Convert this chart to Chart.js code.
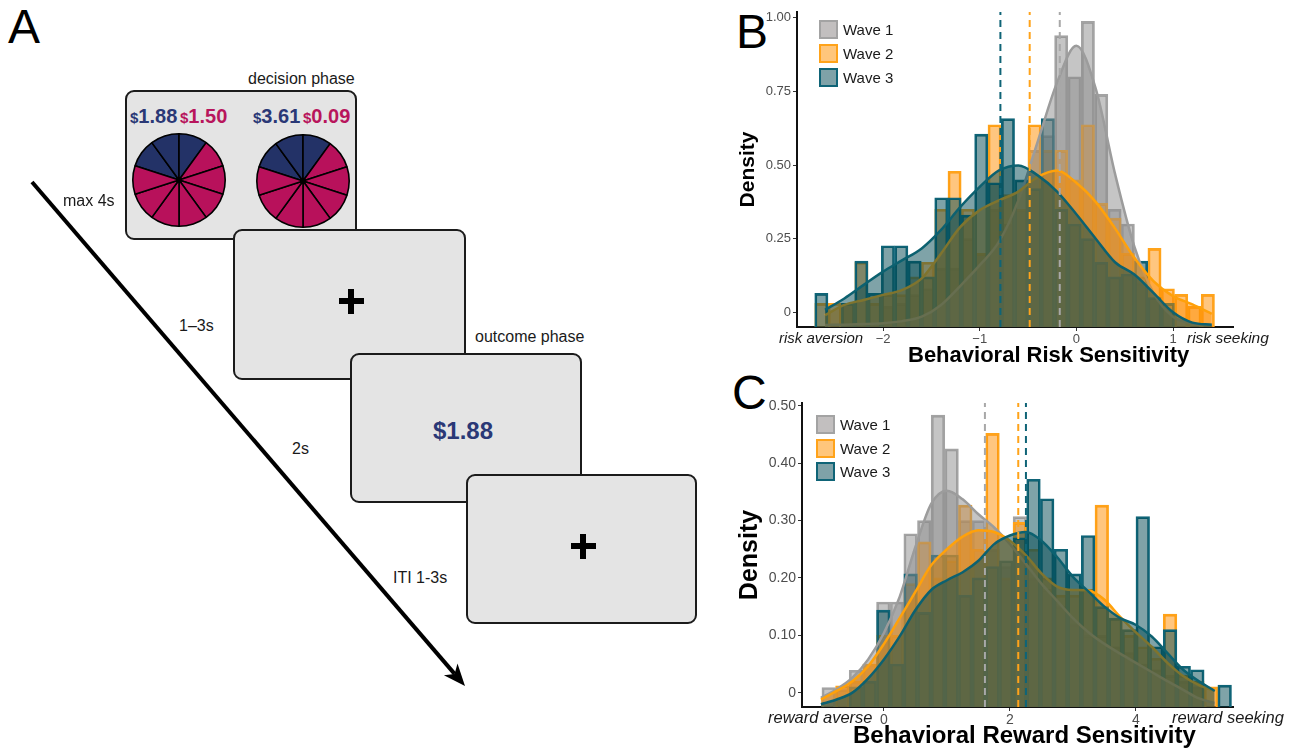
<!DOCTYPE html>
<html>
<head>
<meta charset="utf-8">
<script src="https://cdn.jsdelivr.net/npm/chart.js@4.4.0/dist/chart.umd.min.js"></script>
<style>
  html, body { margin: 0; padding: 0; background: #fff; }
  body {
    width: 1293px; height: 751px; position: relative; overflow: hidden;
    font-family: "Liberation Sans", Arial, sans-serif; color: #1a1a1a;
  }
  .abs { position: absolute; white-space: nowrap; line-height: 1; }
  .letter { font-size: 48px; color: #000; }
  .screen {
    position: absolute; box-sizing: border-box; border: 2px solid #1b1b1b;
    border-radius: 9px; background: #e4e4e4;
  }
  .note { font-size: 16px; color: #1a1a1a; }
  .money { font-size: 20px; font-weight: 700; }
  .money small { font-size: 15px; }
  .blue { color: #2a3876; }
  .pink { color: #b8155c; }
  .bar { position: absolute; background: #000; }
  .xtitle { font-weight: 700; color: #000; }
  .side { font-style: italic; color: #1a1a1a; }
  .legend-item { position: absolute; height: 19px; }
  .legend-key { position: absolute; left: 0; top: 0; width: 19px; height: 19px; box-sizing: border-box; border: 2px solid; }
  .legend-text { position: absolute; left: 24px; top: 2px; font-size: 15px; line-height: 1; color: #1a1a1a; white-space: nowrap; }
  canvas { position: absolute; }
</style>
</head>
<body>

<!-- ── Panel A: task timeline ─────────────────────────────── -->
<div class="abs letter" style="left:8px; top:3px;">A</div>

<svg width="1293" height="751" style="position:absolute; left:0; top:0;">
  <line x1="32" y1="182" x2="454.6" y2="673.9" stroke="#000" stroke-width="4"/>
  <polygon points="465,686 443.9,675.2 454.6,673.9 457.5,663.4" fill="#000"/>
</svg>

<div class="screen" style="left:125px; top:90px; width:232px; height:150px;"></div>
<div class="abs note" style="left:248px; top:71px;">decision phase</div>
<div class="abs money blue" style="left:130px; top:106px;"><small>$</small>1.88</div>
<div class="abs money pink" style="left:180px; top:106px;"><small>$</small>1.50</div>
<div class="abs money blue" style="left:253px; top:106px;"><small>$</small>3.61</div>
<div class="abs money pink" style="left:303px; top:106px;"><small>$</small>0.09</div>
<canvas id="pie1" width="94" height="94" style="left:132px; top:133px;"></canvas>
<canvas id="pie2" width="94" height="94" style="left:256px; top:134px;"></canvas>
<div class="abs" style="left:176px; top:177px; width:6px; height:6px; border-radius:3px; background:#000;"></div>
<div class="abs" style="left:300px; top:178px; width:6px; height:6px; border-radius:3px; background:#000;"></div>

<div class="screen" style="left:233px; top:229px; width:233px; height:151px;"></div>
<div class="bar" style="left:339px; top:298px; width:25px; height:6px;"></div>
<div class="bar" style="left:348px; top:289px; width:6px; height:25px;"></div>

<div class="abs note" style="left:475px; top:329px;">outcome phase</div>
<div class="screen" style="left:350px; top:353px; width:232px; height:150px;"></div>
<div class="abs blue" style="left:433px; top:419px; font-size:24px; font-weight:700;">$1.88</div>

<div class="screen" style="left:466px; top:474px; width:231px; height:150px;"></div>
<div class="bar" style="left:571px; top:543px; width:25px; height:6px;"></div>
<div class="bar" style="left:580px; top:534px; width:6px; height:25px;"></div>

<div class="abs note" style="left:63px; top:193px;">max 4s</div>
<div class="abs note" style="left:179px; top:318px;">1–3s</div>
<div class="abs note" style="left:292px; top:441px;">2s</div>
<div class="abs note" style="left:393px; top:570px;">ITI 1-3s</div>

<!-- ── Panel B / C: histograms ────────────────────────────── -->
<div class="abs letter" style="left:736px; top:8px;">B</div>
<div class="abs letter" style="left:732px; top:369px;">C</div>

<canvas id="riskChart" width="515" height="372" style="left:730px; top:0px;"></canvas>
<canvas id="rewardChart" width="515" height="379" style="left:730px; top:372px;"></canvas>

<div class="abs xtitle" style="left:908px; top:344px; font-size:22px;">Behavioral Risk Sensitivity</div>
<div class="abs side" style="left:779px; top:330px; font-size:15px;">risk aversion</div>
<div class="abs side" style="left:1187px; top:330px; font-size:15.5px;">risk seeking</div>

<div class="abs xtitle" style="left:853px; top:723px; font-size:24px;">Behavioral Reward Sensitivity</div>
<div class="abs side" style="left:768px; top:709px; font-size:16.5px;">reward averse</div>
<div class="abs side" style="left:1172px; top:709px; font-size:16.5px;">reward seeking</div>

<div id="riskLegend"></div>
<div id="rewardLegend"></div>

<script>
// ── Data ────────────────────────────────────────────────────

const WAVE_LABELS = ['Wave 1', 'Wave 2', 'Wave 3'];

// decision-phase wheels: 10 equal wedges each, 3 blue (win) / 7 pink
const PIE_LEFT_WEDGES = [1, 1, 1, 1, 1, 1, 1, 1, 1, 1];
const PIE_RIGHT_WEDGES = [1, 1, 1, 1, 1, 1, 1, 1, 1, 1];
const PIE_BLUE_COUNT = 3;

// Panel B – behavioral risk sensitivity (30 shared bins)
const RISK_BIN_CENTERS = [-2.638, -2.500, -2.362, -2.224, -2.087, -1.949, -1.811, -1.673, -1.535, -1.397,
  -1.260, -1.122, -0.984, -0.846, -0.708, -0.570, -0.432, -0.295, -0.157, -0.019,
  0.119, 0.257, 0.395, 0.532, 0.670, 0.808, 0.946, 1.084, 1.222, 1.360];
const RISK_HIST_WAVE1 = [null, null, 0.03, null, null, 0.02, 0.03, 0.06, 0.08, 0.15,
  0.15, 0.25, 0.20, 0.35, 0.30, 0.35, 0.55, 0.60, 0.94, 0.80,
  0.988, 0.74, 0.35, 0.30, 0.10, 0.05, null, null, null, null];
const RISK_HIST_WAVE2 = [0.03, 0.03, 0.03, 0.17, 0.03, 0.06, 0.06, 0.12, 0.17, 0.35,
  0.479, 0.35, 0.20, 0.637, 0.40, 0.35, 0.637, 0.55, 0.55, 0.45,
  0.637, 0.37, 0.32, 0.20, 0.12, 0.217, 0.08, 0.061, 0.02, 0.061];
const RISK_HIST_WAVE3 = [0.064, null, 0.03, 0.174, 0.064, 0.226, 0.226, 0.174, 0.12, 0.389,
  0.389, 0.33, 0.605, 0.44, 0.658, 0.45, 0.42, 0.658, 0.35, 0.30,
  0.25, 0.17, 0.12, 0.13, 0.174, 0.05, 0.03, null, null, null];
const RISK_CURVE_X = [-2.6, -2.4, -2.2, -2.0, -1.8, -1.6, -1.4, -1.2, -1.0, -0.8, -0.6,
  -0.4, -0.2, 0.0, 0.2, 0.4, 0.6, 0.8, 1.0, 1.2, 1.4];
const RISK_DENS_WAVE1 = [-0.043, -0.042, -0.040, -0.037, -0.030, -0.015, 0.025, 0.090, 0.160, 0.240, 0.380,
  0.580, 0.780, 0.905, 0.760, 0.470, 0.223, 0.064, -0.015, -0.037, -0.043];
const RISK_DENS_WAVE2 = [-0.010, 0.025, 0.042, 0.059, 0.076, 0.115, 0.200, 0.290, 0.347, 0.380, 0.410,
  0.460, 0.482, 0.440, 0.375, 0.285, 0.185, 0.105, 0.055, 0.027, -0.005];
const RISK_DENS_WAVE3 = [0.008, 0.047, 0.093, 0.138, 0.177, 0.217, 0.280, 0.358, 0.426, 0.482, 0.499,
  0.465, 0.410, 0.333, 0.250, 0.170, 0.128, 0.065, 0.000, -0.035, -0.042];
const RISK_MEANS = [-0.172, -0.483, -0.786];
const RISK_X_TICKS = [-2, -1, 0, 1];
const RISK_Y_TICKS = [0, 0.25, 0.5, 0.75, 1];

// Panel C – behavioral reward sensitivity (30 shared bins)
const REWARD_BIN_CENTERS = [-0.876, -0.659, -0.443, -0.226, -0.009, 0.208, 0.424, 0.641, 0.858, 1.074,
  1.291, 1.508, 1.724, 1.941, 2.158, 2.374, 2.591, 2.808, 3.024, 3.241,
  3.458, 3.674, 3.891, 4.108, 4.324, 4.541, 4.758, 4.974, 5.191, 5.408];
const REWARD_HIST_WAVE1 = [0.009, 0.005, 0.039, 0.05, 0.158, 0.158, 0.277, 0.30, 0.484, 0.425,
  0.30, 0.30, 0.25, 0.22, 0.307, 0.20, 0.18, 0.15, 0.12, 0.10,
  0.10, 0.08, 0.07, 0.05, 0.04, 0.03, 0.02, 0.01, null, null];
const REWARD_HIST_WAVE2 = [null, 0.012, 0.02, 0.05, 0.10, 0.10, 0.19, 0.263, 0.20, 0.23,
  0.327, 0.25, 0.452, 0.20, 0.297, 0.25, 0.20, 0.17, 0.17, 0.18,
  0.327, 0.13, 0.10, 0.08, 0.06, 0.137, 0.03, 0.02, 0.01, null];
const REWARD_HIST_WAVE3 = [null, null, 0.01, 0.02, 0.144, 0.05, 0.207, 0.14, 0.24, 0.24,
  0.17, 0.20, 0.22, 0.23, 0.27, 0.372, 0.338, 0.25, 0.207, 0.274,
  0.15, 0.13, 0.11, 0.307, 0.08, 0.11, 0.046, 0.04, null, 0.013];
const REWARD_CURVE_X = [-1.0, -0.75, -0.5, -0.25, 0.0, 0.25, 0.5, 0.75, 1.0, 1.25, 1.5, 1.75, 2.0,
  2.25, 2.5, 2.75, 3.0, 3.25, 3.5, 3.75, 4.0, 4.25, 4.5, 4.75, 5.0, 5.25];
const REWARD_DENS_WAVE1 = [-0.009, 0.006, 0.026, 0.058, 0.104, 0.167, 0.254, 0.329, 0.352, 0.337, 0.311, 0.288, 0.259,
  0.225, 0.190, 0.160, 0.130, 0.105, 0.085, 0.068, 0.052, 0.036, 0.020, 0.005, -0.010, -0.018];
const REWARD_DENS_WAVE2 = [-0.012, 0.003, 0.020, 0.046, 0.085, 0.130, 0.176, 0.222, 0.250, 0.272, 0.283, 0.280, 0.265,
  0.240, 0.208, 0.185, 0.179, 0.178, 0.162, 0.132, 0.105, 0.080, 0.052, 0.029, 0.013, 0.003];
const REWARD_DENS_WAVE3 = [-0.020, -0.012, 0.000, 0.025, 0.058, 0.098, 0.144, 0.179, 0.196, 0.210, 0.230, 0.259, 0.274,
  0.280, 0.265, 0.236, 0.202, 0.176, 0.150, 0.130, 0.118, 0.098, 0.069, 0.040, 0.020, 0.003];
const REWARD_MEANS = [1.603, 2.132, 2.254];
const REWARD_X_TICKS = [0, 2, 4];
const REWARD_Y_TICKS = [0, 0.1, 0.2, 0.3, 0.4, 0.5];

// ── Styles ──────────────────────────────────────────────────

const FONT = '"Liberation Sans", Arial, sans-serif';

const WAVE_STYLES = [
  { fill: 'rgba(140,140,140,0.5)', line: '#a3a3a3', curve: '#9c9c9c', mean: '#a8a8a8', key: '#c2bfbf' },
  { fill: 'rgba(255,142,0,0.5)',   line: '#ffa31a', curve: '#ffa10a', mean: '#ffa31a', key: '#ffc67b' },
  { fill: 'rgba(0,72,82,0.5)',     line: '#0f6477', curve: '#0c6170', mean: '#0f6477', key: '#7fa2a8' }
];

// ── Helpers ─────────────────────────────────────────────────

function toPoints(xs, ys) {
  return xs.map(function (x, i) { return { x: x, y: ys[i] }; });
}

function signed(v) {
  return v < 0 ? '\u2212' + Math.abs(v) : String(v);
}

function buildLegend(id, left, top, step) {
  var host = document.getElementById(id);
  WAVE_LABELS.forEach(function (label, i) {
    var item = document.createElement('div');
    item.className = 'legend-item';
    item.style.left = left + 'px';
    item.style.top = (top + i * step) + 'px';
    item.innerHTML = '<div class="legend-key" style="background:' + WAVE_STYLES[i].key +
      ';border-color:' + WAVE_STYLES[i].line + '"></div><div class="legend-text">' + label + '</div>';
    host.appendChild(item);
  });
}

function makePie(canvasId, wedges) {
  var colors = wedges.map(function (w, i) { return i < PIE_BLUE_COUNT ? '#233267' : '#b8115b'; });
  return new Chart(document.getElementById(canvasId), {
    type: 'pie',
    data: { labels: wedges.map(function (w, i) { return 'w' + i; }),
      datasets: [{ data: wedges, backgroundColor: colors, borderColor: '#000', borderWidth: 1.6 }] },
    options: {
      responsive: false, animation: false, events: [], rotation: -72,
      plugins: { legend: { display: false }, tooltip: { enabled: false } }
    }
  });
}

// histogram + density + mean lines in one Chart.js chart
function makeHistChart(canvasId, cfg) {
  var datasets = [];

  cfg.hists.forEach(function (vals, i) {
    datasets.push({
      type: 'bar', label: WAVE_LABELS[i],
      data: toPoints(cfg.centers, vals),
      backgroundColor: WAVE_STYLES[i].fill, borderColor: WAVE_STYLES[i].line,
      borderWidth: 2, borderSkipped: 'start', base: cfg.yMin,
      grouped: false, barPercentage: 1, categoryPercentage: 1,
      order: 20 - i
    });
  });

  cfg.dens.forEach(function (vals, i) {
    datasets.push({
      type: 'line', label: WAVE_LABELS[i] + ' density',
      data: toPoints(cfg.curveX, vals),
      borderColor: WAVE_STYLES[i].curve, backgroundColor: WAVE_STYLES[i].fill,
      borderWidth: 2.5, pointRadius: 0, fill: 'start',
      cubicInterpolationMode: 'monotone',
      order: 10 - i
    });
  });

  cfg.means.forEach(function (m, i) {
    datasets.push({
      type: 'line', label: WAVE_LABELS[i] + ' mean',
      data: [{ x: m, y: cfg.yMin }, { x: m, y: cfg.yMax }],
      borderColor: WAVE_STYLES[i].mean, borderWidth: 2, borderDash: [7, 5],
      pointRadius: 0, fill: false,
      order: 3 - i
    });
  });

  return new Chart(document.getElementById(canvasId), {
    type: 'bar',
    data: { datasets: datasets },
    options: {
      responsive: false, animation: false, events: [],
      layout: { padding: { top: cfg.padTop, right: 12, left: 0, bottom: 0 } },
      plugins: { legend: { display: false }, tooltip: { enabled: false } },
      scales: {
        x: {
          type: 'linear', min: cfg.xMin, max: cfg.xMax, offset: false,
          afterBuildTicks: function (scale) {
            scale.ticks = cfg.xTicks.map(function (v) { return { value: v }; });
          },
          afterFit: function (scale) { scale.height = cfg.xAxisHeight; },
          grid: { display: true, drawOnChartArea: false, drawTicks: true, tickLength: 4,
            tickColor: '#333', offset: false },
          border: { display: true, color: '#111', width: 2 },
          ticks: { color: '#4d4d4d', padding: 1, maxRotation: 0, autoSkip: false,
            font: { family: FONT, size: cfg.tickSize },
            callback: function (v) { return signed(v); } }
        },
        y: {
          type: 'linear', min: cfg.yMin, max: cfg.yMax,
          afterBuildTicks: function (scale) {
            scale.ticks = cfg.yTicks.map(function (v) { return { value: v }; });
          },
          afterFit: function (scale) { scale.width = cfg.yAxisWidth; },
          grid: { display: true, drawOnChartArea: false, drawTicks: true, tickLength: 4,
            tickColor: '#333' },
          border: { display: true, color: '#111', width: 2 },
          ticks: { color: '#4d4d4d', padding: 2,
            font: { family: FONT, size: cfg.tickSize },
            callback: function (v) { return v === 0 ? '0' : v.toFixed(2); } },
          title: { display: true, text: 'Density', color: '#000',
            font: { family: FONT, size: cfg.titleSize, weight: 'bold' },
            padding: { top: cfg.titlePad, bottom: 0 } }
        }
      }
    }
  });
}

// ── Build ───────────────────────────────────────────────────

makePie('pie1', PIE_LEFT_WEDGES);
makePie('pie2', PIE_RIGHT_WEDGES);

makeHistChart('riskChart', {
  centers: RISK_BIN_CENTERS,
  hists: [RISK_HIST_WAVE1, RISK_HIST_WAVE2, RISK_HIST_WAVE3],
  curveX: RISK_CURVE_X,
  dens: [RISK_DENS_WAVE1, RISK_DENS_WAVE2, RISK_DENS_WAVE3],
  means: RISK_MEANS,
  xTicks: RISK_X_TICKS, yTicks: RISK_Y_TICKS,
  xMin: -2.89, xMax: 1.62, yMin: -0.05, yMax: 1.02,
  padTop: 12, xAxisHeight: 45, yAxisWidth: 67,
  tickSize: 13, titleSize: 21, titlePad: 6
});

makeHistChart('rewardChart', {
  centers: REWARD_BIN_CENTERS,
  hists: [REWARD_HIST_WAVE1, REWARD_HIST_WAVE2, REWARD_HIST_WAVE3],
  curveX: REWARD_CURVE_X,
  dens: [REWARD_DENS_WAVE1, REWARD_DENS_WAVE2, REWARD_DENS_WAVE3],
  means: REWARD_MEANS,
  xTicks: REWARD_X_TICKS, yTicks: REWARD_Y_TICKS,
  xMin: -1.30, xMax: 5.54, yMin: -0.025, yMax: 0.505,
  padTop: 31, xAxisHeight: 44, yAxisWidth: 72,
  tickSize: 14, titleSize: 25, titlePad: 5
});

buildLegend('riskLegend', 819, 20, 24);
buildLegend('rewardLegend', 816, 415, 23.5);
</script>
</body>
</html>
